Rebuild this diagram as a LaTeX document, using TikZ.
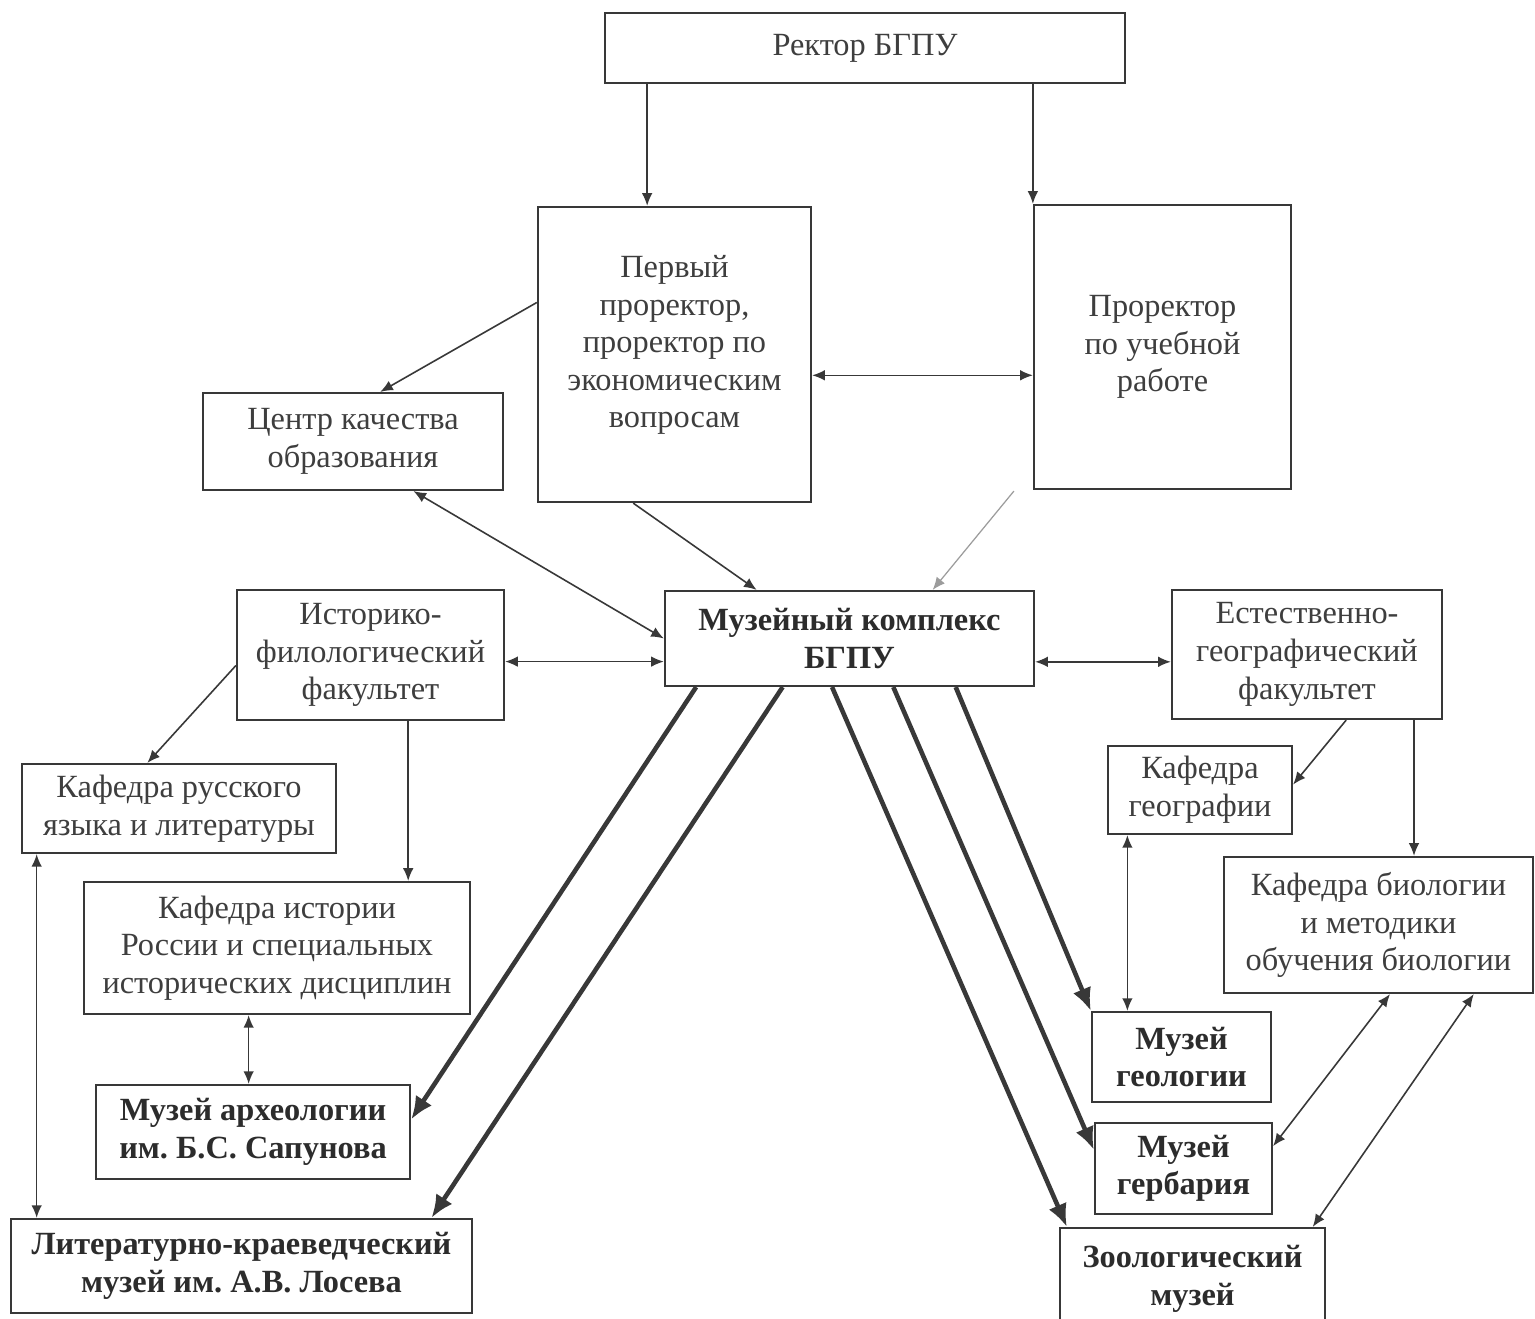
\documentclass[tikz,border=0pt]{standalone}
\usepackage{fontspec}
\setmainfont{Liberation Serif}
\frenchspacing
\usetikzlibrary{arrows.meta,calc}
\definecolor{linecol}{HTML}{383838}
\definecolor{txtcol}{HTML}{3E3E3E}
\definecolor{boldcol}{HTML}{2C2C2C}
\definecolor{faint}{HTML}{9C9C9C}
\begin{document}
\begin{tikzpicture}[x=0.01cm,y=-0.01cm,
  box/.style={draw=linecol,line width=0.6pt,align=center,inner sep=0pt,text=txtcol,font=\fontsize{9.2}{10.7}\selectfont},
  mbox/.style={box,text=boldcol,font=\fontsize{9.2}{10.7}\selectfont\bfseries},
  conn/.style={draw=linecol,line width=0.45pt,-{Latex[length=3.6pt,width=3pt]}},
  conntwo/.style={draw=linecol,line width=0.45pt,{Latex[length=3.6pt,width=3pt]}-{Latex[length=3.6pt,width=3pt]}},
  connfaint/.style={draw=faint,line width=0.35pt,-{Latex[length=3.6pt,width=3pt]}},
  barrow/.style={draw=linecol,line width=1.3pt,-{Latex[length=6.5pt,width=5.5pt]}}]
\fill[white] (0,0) rectangle (1535,1319);
\useasboundingbox (0,0) rectangle (1535,1319);

% boxes
\node[box,minimum width=5.2cm,minimum height=0.7cm] (rector) at (865,48) {Ректор БГПУ};
\node[box,minimum width=2.73cm,minimum height=2.95cm] (first) at (674.5,354.5) {Первый\\проректор,\\проректор по\\экономическим\\вопросам\\[-0.8ex]\mbox{}};
\node[box,minimum width=2.57cm,minimum height=2.84cm] (pro) at (1162.5,347) {Проректор\\по учебной\\работе};
\node[box,minimum width=3.0cm,minimum height=0.97cm] (center) at (353,441.5) {Центр качества\\образования};
\node[mbox,minimum width=3.69cm,minimum height=0.95cm] (museum) at (849.5,638.5) {Музейный комплекс\\БГПУ};
\node[box,minimum width=2.67cm,minimum height=1.3cm] (hist) at (370.5,655) {Историко-\\филологический\\факультет};
\node[box,minimum width=2.7cm,minimum height=1.29cm] (nat) at (1307,654.5) {Естественно-\\географический\\факультет};
\node[box,minimum width=3.14cm,minimum height=0.89cm] (rus) at (179,808.5) {Кафедра русского\\языка и литературы};
\node[box,minimum width=3.86cm,minimum height=1.32cm] (histdep) at (277,948) {Кафедра истории\\России и специальных\\исторических дисциплин};
\node[mbox,minimum width=3.14cm,minimum height=0.94cm] (arch) at (253,1132) {Музей археологии\\им. Б.С. Сапунова};
\node[mbox,minimum width=4.61cm,minimum height=0.94cm] (lit) at (241.5,1266) {Литературно-краеведческий\\музей им. А.В. Лосева};
\node[box,minimum width=1.84cm,minimum height=0.88cm] (geo) at (1200,790) {Кафедра\\географии};
\node[box,minimum width=3.09cm,minimum height=1.36cm] (bio) at (1378.5,925) {Кафедра биологии\\и методики\\обучения биологии};
\node[mbox,minimum width=1.79cm,minimum height=0.9cm] (geol) at (1181.5,1057) {Музей\\геологии};
\node[mbox,minimum width=1.77cm,minimum height=0.91cm] (herb) at (1183.5,1168.5) {Музей\\гербария};
\node[mbox,minimum width=2.65cm,minimum height=1.02cm] (zoo) at (1192.5,1279) {Зоологический\\музей};

% helper points on box edges
\coordinate (r1) at ($(rector.south west)!0.083!(rector.south east)$);
\coordinate (r2) at (rector.south -| pro.north west);
\coordinate (fe) at ($(first.north east)!0.57!(first.south east)$);
\coordinate (fw) at ($(first.north west)!0.325!(first.south west)$);
\coordinate (cn) at ($(center.north west)!0.59!(center.north east)$);
\coordinate (cs) at ($(center.south west)!0.70!(center.south east)$);
\coordinate (fs) at ($(first.south west)!0.35!(first.south east)$);
\coordinate (mn1) at ($(museum.north west)!0.25!(museum.north east)$);
\coordinate (mn2) at ($(museum.north west)!0.724!(museum.north east)$);
\coordinate (pfree) at ($(pro.south west)+(-19,1)$);
\coordinate (he) at ($(hist.north east)!0.55!(hist.south east)$);
\coordinate (me) at ($(museum.north east)!0.74!(museum.south east)$);
\coordinate (hw) at ($(hist.north west)!0.58!(hist.south west)$);
\coordinate (rn) at ($(rus.north west)!0.40!(rus.north east)$);
\coordinate (hs) at ($(hist.south west)!0.64!(hist.south east)$);
\coordinate (rs) at ($(rus.south west)!0.05!(rus.south east)$);
\coordinate (hds) at ($(histdep.south west)!0.427!(histdep.south east)$);
\coordinate (ms1) at ($(museum.south west)!0.087!(museum.south east)$);
\coordinate (ms2) at ($(museum.south west)!0.32!(museum.south east)$);
\coordinate (ms3) at ($(museum.south west)!0.453!(museum.south east)$);
\coordinate (ms4) at ($(museum.south west)!0.618!(museum.south east)$);
\coordinate (ms5) at ($(museum.south west)!0.786!(museum.south east)$);
\coordinate (ae) at ($(arch.north east)!0.37!(arch.south east)$);
\coordinate (ln) at ($(lit.north west)!0.91!(lit.north east)$);
\coordinate (zn1) at ($(zoo.north west)!0.03!(zoo.north east)$);
\coordinate (zn2) at ($(zoo.north west)!0.95!(zoo.north east)$);
\coordinate (hbw) at ($(herb.north west)!0.30!(herb.south west)$);
\coordinate (hbe) at ($(herb.north east)!0.26!(herb.south east)$);
\coordinate (ns1) at ($(nat.south west)!0.644!(nat.south east)$);
\coordinate (ns2) at ($(nat.south west)!0.893!(nat.south east)$);
\coordinate (ge) at ($(geo.north east)!0.44!(geo.south east)$);
\coordinate (gs) at ($(geo.south west)!0.11!(geo.south east)$);
\coordinate (bs1) at ($(bio.south west)!0.537!(bio.south east)$);
\coordinate (bs2) at ($(bio.south west)!0.806!(bio.south east)$);

% connectors
\draw[conn] (r1) -- (r1 |- first.north);
\draw[conn] (r2) -- (pro.north west);
\draw[conntwo] (fe) -- (fe -| pro.west);
\draw[conn] (fw) -- (cn);
\draw[conntwo] (cs) -- (museum.west);
\draw[conn] (fs) -- (mn1);
\draw[connfaint] (pfree) -- (mn2);
\draw[conntwo] (he) -- (he -| museum.west);
\draw[conntwo] (me) -- (me -| nat.west);
\draw[conn] (hw) -- (rn);
\draw[conn] (hs) -- (hs |- histdep.north);
\draw[conntwo] (rs) -- (rs |- lit.north);
\draw[conntwo] (hds) -- (hds |- arch.north);
\draw[barrow] (ms1) -- (ae);
\draw[barrow] (ms2) -- (ln);
\draw[barrow] (ms3) -- (zn1);
\draw[barrow] (ms4) -- (hbw);
\draw[barrow] (ms5) -- (geol.north west);
\draw[conn] (ns1) -- (ge);
\draw[conn] (ns2) -- (ns2 |- bio.north);
\draw[conntwo] (gs) -- (gs |- geol.north);
\draw[conntwo] (bs1) -- (hbe);
\draw[conntwo] (bs2) -- (zn2);
\end{tikzpicture}
\end{document}
